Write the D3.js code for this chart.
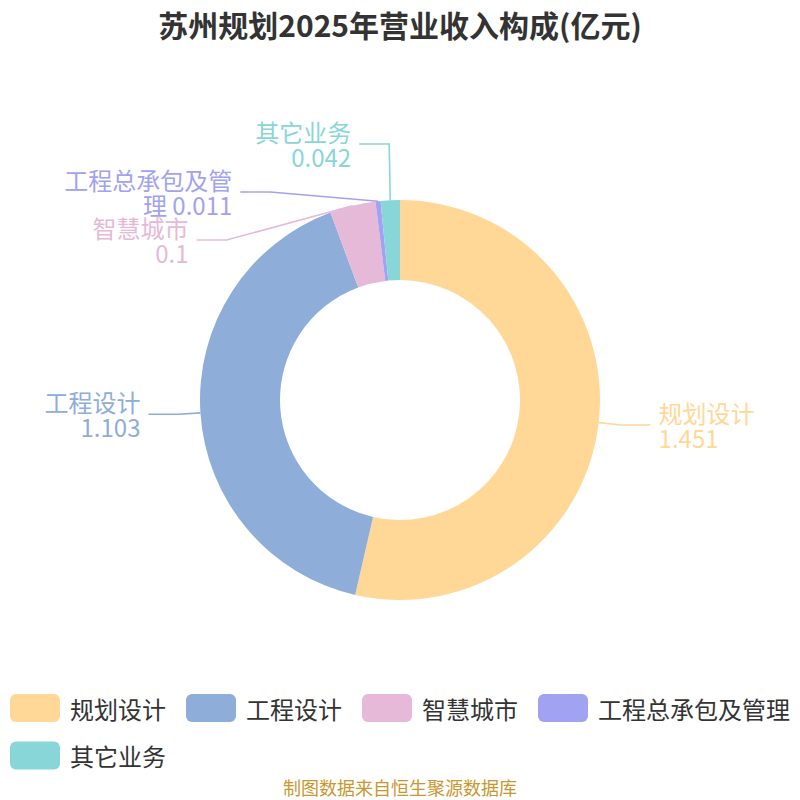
<!DOCTYPE html>
<html>
<head>
<meta charset="utf-8">
<script src="https://cdn.jsdelivr.net/npm/d3@7"></script>
<style>
  html, body { margin: 0; padding: 0; background: #fff; }
  svg { display: block; font-family: "Noto Sans CJK SC", "Noto Sans", sans-serif; }
</style>
</head>
<body>
<div id="chart"></div>
<script>
// Data
const categories = ['规划设计', '工程设计', '智慧城市', '工程总承包及管理', '其它业务'];
const values = [1.451, 1.103, 0.1, 0.011, 0.042];
const colors = ['#FFD898', '#8EADD9', '#E6B9D8', '#A2A2F3', '#88D6D8'];
const title = '苏州规划2025年营业收入构成(亿元)';
const source = '制图数据来自恒生聚源数据库';

const width = 800;
const height = 800;
const cx = 400, cy = 400;
const outerR = 200, innerR = 120;

const svg = d3.select('#chart')
  .append('svg')
  .attr('width', width)
  .attr('height', height)
  .attr('viewBox', `0 0 ${width} ${height}`);

// measure helper
const measurer = svg.append('text').style('font-size', '24px').attr('visibility', 'hidden');
function textWidth(str, size) {
  measurer.style('font-size', size + 'px').text(str);
  return measurer.node().getComputedTextLength();
}

// Title
svg.append('text')
  .attr('x', width / 2)
  .attr('y', 24)
  .attr('text-anchor', 'middle')
  .attr('dominant-baseline', 'central')
  .attr('fill', '#333')
  .style('font-size', '30px')
  .style('font-weight', 'bold')
  .text(title);

// Donut
const pie = d3.pie().sort(null).value(d => d.value);
const arcs = pie(categories.map((c, i) => ({ name: c, value: values[i], color: colors[i] })));
const arc = d3.arc().innerRadius(innerR).outerRadius(outerR);

const g = svg.append('g').attr('transform', `translate(${cx},${cy})`);
g.selectAll('path.slice')
  .data(arcs)
  .enter()
  .append('path')
  .attr('class', 'slice')
  .attr('d', arc)
  .attr('fill', d => d.data.color);

// Label layout (outer labels, pushed apart on each side)
const len1 = 22, len2 = 30, labelH = 48, labelMaxW = 170, lineH = 25;
const items = arcs.map(d => {
  const mid = (d.startAngle + d.endAngle) / 2;
  const sx = cx + outerR * Math.sin(mid), sy = cy - outerR * Math.cos(mid);
  const ex = cx + (outerR + len1) * Math.sin(mid), ey = cy - (outerR + len1) * Math.cos(mid);
  return { d, sx, sy, ex, ey, dir: Math.sin(mid) >= 0 ? 1 : -1 };
});

[1, -1].forEach(dir => {
  const list = items.filter(it => it.dir === dir).sort((a, b) => a.ey - b.ey);
  if (list.length < 2) return;
  const shifts = [];
  let total = 0, last = -Infinity;
  list.forEach(it => {
    const s = Math.max(0, last + labelH - it.ey);
    it.ey += s;
    shifts.push(s);
    total += s;
    last = it.ey;
  });
  if (total <= 0) return;
  // pull the crowded group back up
  list.forEach((it, i) => {
    if (shifts[i] > 0 || (shifts[i + 1] || 0) > 0) it.ey -= total / list.length;
  });
  // keep labels on an ellipse around the pie
  const rA = outerR + len1;
  [list.filter(it => it.ey <= cy), list.filter(it => it.ey > cy)].forEach(semi => {
    if (!semi.length) return;
    let maxY = -1, rB = rA;
    semi.forEach(it => {
      const dy = Math.abs(it.ey - cy);
      if (dy >= maxY) {
        const dx = it.ex - cx;
        rB = Math.abs(dx) < rA ? Math.sqrt(dy * dy / (1 - dx * dx / rA / rA)) : rA;
        maxY = dy;
      }
    });
    semi.forEach(it => {
      const dy = Math.abs(it.ey - cy);
      const dx = Math.sqrt(Math.max(0, 1 - dy * dy / (rB * rB))) * rA;
      it.ex = cx + dx * dir;
    });
  });
});

items.forEach(it => {
  it.tx = it.ex + it.dir * len2;
  // avoid an acute turn in the leader line
  const dot = (it.sx - it.ex) * (it.tx - it.ex);
  if (dot > 0) {
    const t = Math.min(1, Math.max(0, (it.sx - it.ex) / (it.tx - it.ex)));
    it.ex = it.ex + t * (it.tx - it.ex);
  }
});

// wrap "name\nvalue" into lines no wider than labelMaxW
function labelLines(name, value) {
  const lines = [];
  let cur = '';
  for (const ch of name) {
    if (cur && textWidth(cur + ch, 24) > labelMaxW) { lines.push(cur); cur = ''; }
    cur += ch;
  }
  if (lines.length) lines.push(cur + ' ' + value);
  else lines.push(cur, String(value));
  return lines;
}

const labelG = svg.append('g');
labelG.selectAll('polyline')
  .data(items)
  .enter()
  .append('polyline')
  .attr('points', it => [[it.sx, it.sy], [it.ex, it.ey], [it.tx, it.ey]].map(p => p.join(',')).join(' '))
  .attr('fill', 'none')
  .attr('stroke', it => it.d.data.color)
  .attr('stroke-width', 1.6);

items.forEach(it => {
  const lines = labelLines(it.d.data.name, it.d.data.value);
  const t = labelG.append('text')
    .attr('text-anchor', it.dir > 0 ? 'start' : 'end')
    .attr('fill', it.d.data.color)
    .style('font-size', '24px');
  lines.forEach((ln, i) => {
    t.append('tspan')
      .attr('x', it.tx + it.dir * 8)
      .attr('y', it.ey + (i - (lines.length - 1) / 2) * lineH)
      .attr('dominant-baseline', 'central')
      .text(ln);
  });
});

// Legend
const legendG = svg.append('g');
const boxW = 50, boxH = 28, rowH = 47.5, gap = 20;
let lx = 10, ly = 694;
categories.forEach((c, i) => {
  const w = boxW + 10 + textWidth(c, 24);
  if (lx + w > width) { lx = 10; ly += rowH; }
  legendG.append('rect')
    .attr('x', lx).attr('y', ly)
    .attr('width', boxW).attr('height', boxH)
    .attr('rx', 6).attr('ry', 6)
    .attr('fill', colors[i]);
  legendG.append('text')
    .attr('x', lx + boxW + 10)
    .attr('y', ly + boxH / 2)
    .attr('dominant-baseline', 'central')
    .attr('fill', '#333')
    .style('font-size', '24px')
    .text(c);
  lx += w + gap;
});

// Source note
svg.append('text')
  .attr('x', width / 2)
  .attr('y', 787)
  .attr('text-anchor', 'middle')
  .attr('dominant-baseline', 'central')
  .attr('fill', '#C9962F')
  .style('font-size', '18px')
  .text(source);

measurer.remove();
</script>
</body>
</html>
